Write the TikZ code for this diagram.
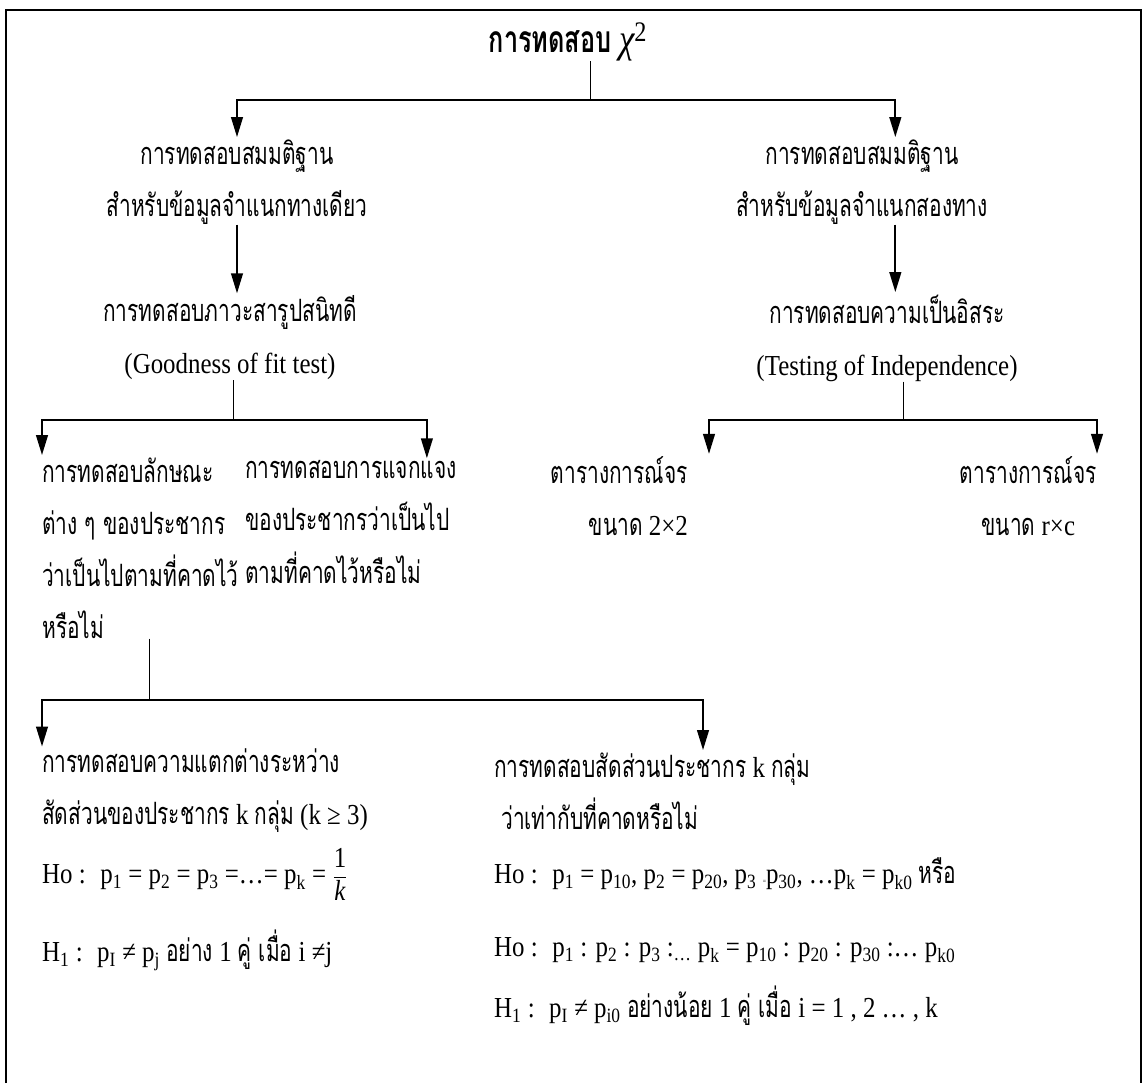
\documentclass[tikz,border=0pt]{standalone}
\usepackage{fontspec}
\setmainfont[Scale=1.15, FakeStretch=0.86]{Liberation Serif}
\newfontfamily\thai[Script=Thai, Scale=1.22, FakeStretch=0.68]{Loma}
\usetikzlibrary{arrows.meta}

\tikzset{
  txt/.style={inner sep=0pt, font=\fontsize{21.5}{44.4}\selectfont},
  thtxt/.style={txt, font=\thai\fontsize{21.5}{44.4}\selectfont},
  stem/.style={line width=0.8pt},
  rail/.style={line width=1.6pt},
  arr/.style={rail, -{Triangle[length=17pt,width=10pt]}, shorten >=2pt},
}
\newcommand\sbs[1]{\textsubscript{#1}}

\begin{document}
\begin{tikzpicture}[x=0.03cm, y=-0.03cm]
  \useasboundingbox (0,0) rectangle (1145,1083);
  % Frame (open at the bottom)
  \draw[line width=2.5pt] (6,1083) -- (6,10) -- (1141,10) -- (1141,1083);

  % Root
  \node[txt, font=\fontsize{26}{28}\selectfont] (root) at (568,42)
    {{\thai\bfseries การทดสอบ}~{\fontsize{30}{32}\selectfont\itshape χ\upshape\textsuperscript{2}}};

  % One-way and two-way branches
  \node[thtxt, align=center] (L1) at (237,182) {การทดสอบสมมติฐาน\\สำหรับข้อมูลจำแนกทางเดียว};
  \node[thtxt, align=center] (R1) at (862,182) {การทดสอบสมมติฐาน\\สำหรับข้อมูลจำแนกสองทาง};
  \node[txt, align=center] (L2) at (230,338) {{\thai การทดสอบภาวะสารูปสนิทดี}\\(Goodness of fit test)};
  \node[txt, align=center] (R2) at (887,338) {{\thai การทดสอบความเป็นอิสระ}\\(Testing of Independence)};

  % Third level
  \node[thtxt, align=left, anchor=west] (A) at (42,548)
    {การทดสอบลักษณะ\\ต่าง ๆ ของประชากร\\ว่าเป็นไปตามที่คาดไว้\\หรือไม่};
  \node[thtxt, align=left, anchor=west] (B) at (245,522)
    {การทดสอบการแจกแจง\\ของประชากรว่าเป็นไป\\ตามที่คาดไว้หรือไม่};
  \node[txt, align=right, anchor=east] (C) at (688,496) {{\thai ตารางการณ์จร}\\{\thai ขนาด} 2×2};
  \node[txt, align=center, anchor=east] (D) at (1097,496) {{\thai ตารางการณ์จร}\\{\thai ขนาด} r×c};

  % Fourth level
  \node[txt, align=left, anchor=west] (E) at (42,791)
    {{\thai การทดสอบความแตกต่างระหว่าง}\\{\thai สัดส่วนของประชากร} k {\thai กลุ่ม} (k ≥ 3)};
  \node[txt, align=left, anchor=west] (F) at (494,791)
    {{\thai การทดสอบสัดส่วนประชากร} k {\thai กลุ่ม}\\\hspace{6pt}{\thai ว่าเท่ากับที่คาดหรือไม่}};

  % Hypotheses
  \node[txt, anchor=west] (G1) at (42,874)
    {Ho~:~ p\sbs{1} = p\sbs{2} = p\sbs{3} =…= p\sbs{k} = $\displaystyle\frac{\mbox{1}}{\mbox{\itshape k}}$};
  \node[txt, anchor=west] (G2) at (42,950)
    {H\sbs{1}~:~ p\sbs{I} ≠ p\sbs{j} {\thai อย่าง} 1 {\thai คู่ เมื่อ} i ≠j};
  \node[txt, anchor=west] (H1) at (494,874)
    {Ho~:~ p\sbs{1} = p\sbs{10}, p\sbs{2} = p\sbs{20}, p\sbs{3} {\tiny=}p\sbs{30}, …p\sbs{k} = p\sbs{k0} {\thai หรือ}};
  \node[txt, anchor=west] (H2) at (494,950)
    {Ho~:~ p\sbs{1} : p\sbs{2} : p\sbs{3} :\sbs{…} p\sbs{k} = p\sbs{10} : p\sbs{20} : p\sbs{30} :… p\sbs{k0}};
  \node[txt, anchor=west] (H3) at (494,1006)
    {H\sbs{1}~:~ p\sbs{I} ≠ p\sbs{i0} {\thai อย่างน้อย} 1 {\thai คู่ เมื่อ} i = 1 , 2 … , k};

  % Junctions
  \coordinate (jR) at (590,100);
  \coordinate (jL) at (233,420);
  \coordinate (jT) at (903,420);
  \coordinate (jA) at (149,700);

  % Connectors
  \draw[stem] (root.south -| jR) -- (jR);
  \draw[arr] (jR) -| (L1.north);
  \draw[arr] (jR) -| ([xshift=1cm]R1.north);
  \draw[arr] (L1.south) -- (L1.south |- L2.north);
  \draw[arr] ([xshift=1cm]R1.south) -- ([xshift=1cm]R1.south |- R2.north);
  \draw[stem] (L2.south -| jL) -- (jL);
  \draw[arr] (jL) -| (A.north west);
  \draw[arr] (jL) -| ([xshift=-0.9cm]B.north east);
  \draw[stem] (R2.south -| jT) -- (jT);
  \draw[arr] (jT) -| ([xshift=0.63cm]C.north east);
  \draw[arr] (jT) -| (D.north east);
  \draw[stem] (A.south -| jA) -- (jA);
  \draw[arr] (jA) -| (E.north west);
  \draw[arr] (jA) -| ([xshift=6.27cm]F.north west);
\end{tikzpicture}
\end{document}
